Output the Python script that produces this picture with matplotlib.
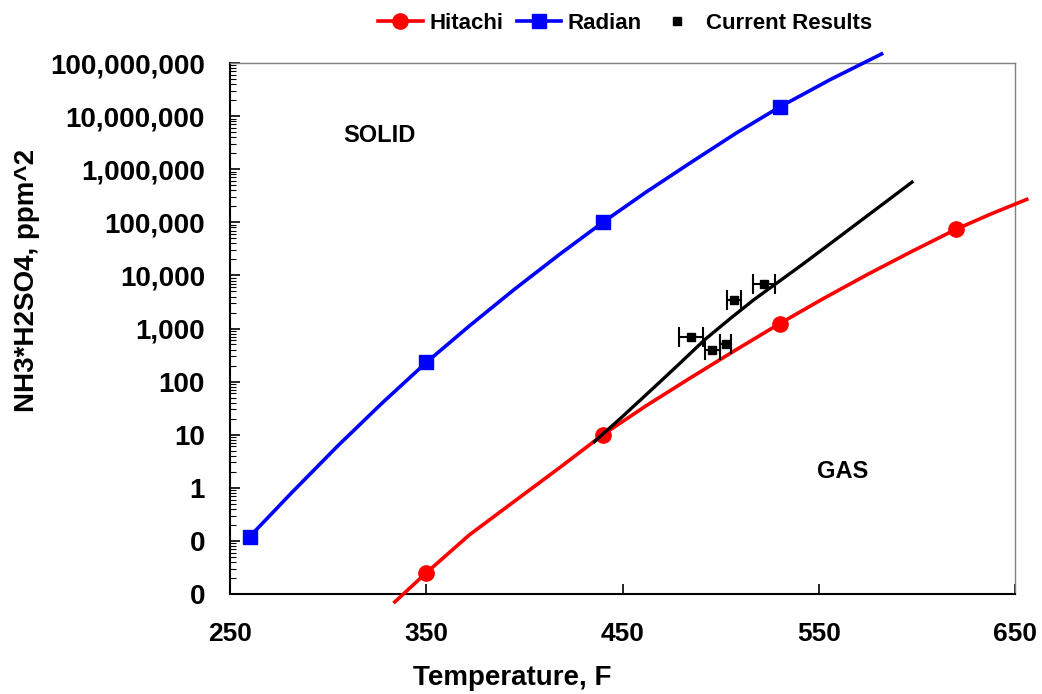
import matplotlib
matplotlib.use('Agg')
import matplotlib.pyplot as plt
from matplotlib.lines import Line2D
from matplotlib.ticker import FuncFormatter, LogLocator, NullFormatter

plt.rcParams.update({
    'font.family': ['Liberation Sans', 'DejaVu Sans'],
    'font.weight': 'bold',
    'axes.labelweight': 'bold',
})

# Hitachi: marker points and smooth curve
hitachi_t = [350, 440, 530, 620]
hitachi_v = [0.025, 10, 1230, 74000]
hitachi_curve_t = [334, 350, 372, 395, 418, 440, 462, 485, 508, 530, 552, 575, 598, 620, 638, 656]
hitachi_curve_v = [0.0071, 0.025, 0.13, 0.56, 2.4, 10, 35, 120, 400, 1230,
                   3600, 10500, 29000, 74000, 145000, 270000]

# Radian: marker points and smooth curve
radian_t = [260, 350, 440, 530]
radian_v = [0.12, 229, 100000, 14800000]
radian_curve_t = [260, 282, 305, 328, 350, 372, 395, 418, 440, 462, 485, 508, 530, 556, 582]
radian_curve_v = [0.12, 0.85, 6.2, 41, 229, 1120, 5500, 25000, 100000, 370000,
                  1350000, 4800000, 14800000, 49000000, 148000000]

# Current results: measured points with temperature uncertainty
current_t = [484.8, 495.7, 502.6, 506.8, 522.1]
current_v = [690, 400, 500, 3400, 6800]
current_terr = [6.1, 3.8, 2.8, 3.5, 5.5]

# Fitted line for current results
fit_t = [435.7, 450, 464, 478, 492, 505, 517, 530, 541.6, 556, 570, 584, 597.5]
fit_v = [7.4, 22, 66, 200, 620, 1550, 3500, 7800, 16000, 40000, 98000, 240000, 570000]

fig = plt.figure(figsize=(10.42, 6.94), dpi=100)
ax = fig.add_axes([230 / 1042, 100 / 694, 785 / 1042, 531 / 694])

ax.plot(hitachi_curve_t, hitachi_curve_v, color='#ff0000', lw=2.6, clip_on=False, zorder=3)
ax.plot(hitachi_t, hitachi_v, color='#ff0000', marker='o', ms=11, linestyle='none', zorder=4)
ax.plot(radian_curve_t, radian_curve_v, color='#0000ff', lw=2.6, clip_on=False, zorder=3)
ax.plot(radian_t, radian_v, color='#0000ff', marker='s', ms=10, linestyle='none', zorder=4)

ax.errorbar(current_t, current_v, xerr=current_terr, fmt='s', color='black',
            ms=5.5, capsize=7, elinewidth=1.5, capthick=1.5, zorder=5)
ax.plot(fit_t, fit_v, color='black', lw=2.4, zorder=6)

ax.set_yscale('log')
ax.set_xlim(250, 650)
ax.set_ylim(0.01, 1e8)
ax.set_xticks([250, 350, 450, 550, 650])
ax.yaxis.set_major_locator(LogLocator(base=10, numticks=20))
ax.yaxis.set_minor_locator(LogLocator(base=10, subs=range(2, 10), numticks=20))
ax.yaxis.set_minor_formatter(NullFormatter())
ax.yaxis.set_major_formatter(FuncFormatter(lambda v, p: f'{v:,.0f}'))

ax.tick_params(axis='y', which='major', direction='in', length=7, width=1.2,
               labelsize=20, pad=18)
ax.tick_params(axis='x', which='major', direction='in', length=7, width=1.2,
               labelsize=19, pad=20)
ax.tick_params(axis='y', which='minor', direction='in', length=4, width=0.8)
for lbl in ax.get_xticklabels() + ax.get_yticklabels():
    lbl.set_fontweight('bold')

for s in ['left', 'bottom']:
    ax.spines[s].set_linewidth(1.5)
    ax.spines[s].set_color('black')
for s in ['top', 'right']:
    ax.spines[s].set_linewidth(1.0)
    ax.spines[s].set_color('#808080')

ax.set_xlabel('Temperature, F', fontsize=20, fontweight='bold')
ax.xaxis.set_label_coords(0.36, -0.158)
ax.xaxis.label.set_va('center')
ax.set_ylabel('NH3*H2SO4, ppm^2', fontsize=20, fontweight='bold')
ax.yaxis.set_label_coords(-0.259, 0.591)
ax.yaxis.label.set_va('center')

ax.text(326, 4.4e6, 'SOLID', fontsize=17, fontweight='bold', ha='center', va='center')
ax.text(562, 2.0, 'GAS', fontsize=17, fontweight='bold', ha='center', va='center')

# legend handles: line + marker for the two references, marker only for results
leg_hit = Line2D([], [], color='#ff0000', lw=2.6, marker='o', ms=11)
leg_rad = Line2D([], [], color='#0000ff', lw=2.6, marker='s', ms=10)
leg_cur = Line2D([], [], color='black', marker='s', ms=6, linestyle='none')
fig.legend([leg_hit, leg_rad, leg_cur], ['Hitachi', 'Radian', 'Current Results'],
           loc='upper center', bbox_to_anchor=(0.6, 1.01), ncol=3, frameon=False,
           handlelength=2.0, handletextpad=0.3, columnspacing=0.6,
           prop={'weight': 'bold', 'size': 16})

fig.savefig('out.png', dpi=100)
